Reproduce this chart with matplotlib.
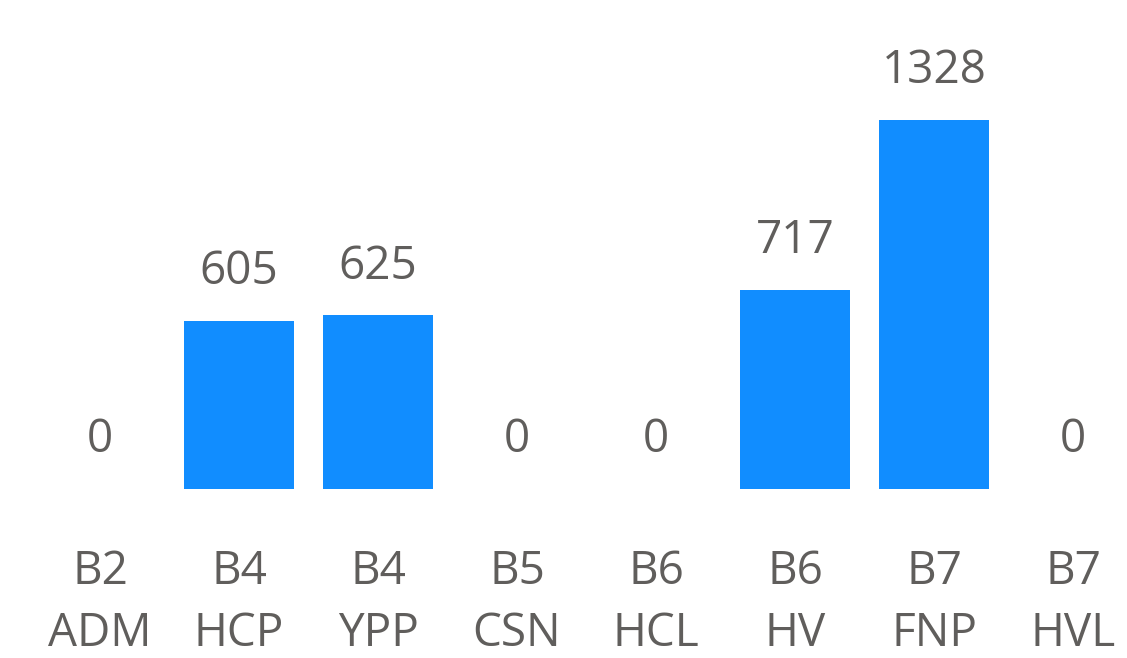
import matplotlib.pyplot as plt

# data
cats = ["B2\nADM", "B4\nHCP", "B4\nYPP", "B5\nCSN", "B6\nHCL", "B6\nHV", "B7\nFNP", "B7\nHVL"]
values = [0, 605, 625, 0, 0, 717, 1328, 0]

plt.rcParams['font.family'] = ['Open Sans', 'DejaVu Sans']
txt_color = "#605E5C"
bar_color = "#118DFF"

W, H = 1127, 658
fig = plt.figure(figsize=(W / 100, H / 100), dpi=100)

# axes: baseline at y=489px, full width
ax = fig.add_axes([0, 1 - 489 / H, 1, 489 / H])
x = list(range(len(cats)))
ax.bar(x, values, width=0.785, color=bar_color)

# category 0 at x=100px, spacing 139px
ax.set_xlim(-100 / 139, (W - 100) / 139)
ax.set_ylim(0, 489 / (369 / 1328))

for i, v in enumerate(values):
    ax.annotate(str(v), (i, v), xytext=(0, 35), textcoords="offset points",
                ha="center", va="center", fontsize=33, color=txt_color)

ax.set_xticks(x)
ax.set_xticklabels(cats, fontsize=33, color=txt_color, linespacing=1.45)
ax.tick_params(axis="x", length=0, pad=43.5)
ax.set_yticks([])
for s in ax.spines.values():
    s.set_visible(False)

fig.savefig("out.png", dpi=100)
